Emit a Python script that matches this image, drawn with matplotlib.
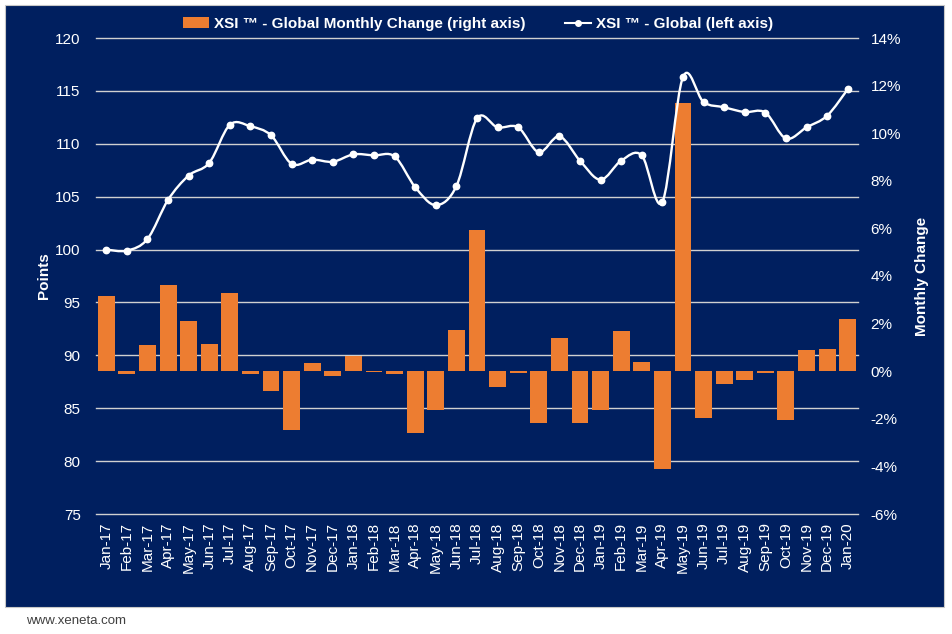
import numpy as np
import matplotlib.pyplot as plt
from matplotlib.patches import Rectangle, Patch
from matplotlib.lines import Line2D
from matplotlib.path import Path
from matplotlib.patches import PathPatch
from matplotlib.ticker import FuncFormatter

plt.rcParams['font.family'] = ['Liberation Sans', 'DejaVu Sans']

months = ['Jan-17', 'Feb-17', 'Mar-17', 'Apr-17', 'May-17', 'Jun-17', 'Jul-17', 'Aug-17',
          'Sep-17', 'Oct-17', 'Nov-17', 'Dec-17', 'Jan-18', 'Feb-18', 'Mar-18', 'Apr-18',
          'May-18', 'Jun-18', 'Jul-18', 'Aug-18', 'Sep-18', 'Oct-18', 'Nov-18', 'Dec-18',
          'Jan-19', 'Feb-19', 'Mar-19', 'Apr-19', 'May-19', 'Jun-19', 'Jul-19', 'Aug-19',
          'Sep-19', 'Oct-19', 'Nov-19', 'Dec-19', 'Jan-20']

# XSI Global index (left axis)
xsi = [100.0, 99.9, 101.0, 104.7, 107.0, 108.2, 111.8, 111.65, 110.8, 108.1, 108.5, 108.3,
       109.0, 108.9, 108.8, 105.9, 104.2, 106.0, 112.4, 111.55, 111.55, 109.2, 110.7, 108.4,
       106.6, 108.4, 108.9, 104.5, 116.3, 113.95, 113.45, 113.0, 112.95, 110.5, 111.55,
       112.65, 115.15]

# monthly change in % (right axis)
change = [3.15, -0.12, 1.11, 3.62, 2.12, 1.16, 3.27, -0.12, -0.82, -2.46, 0.36, -0.22,
          0.64, -0.05, -0.12, -2.60, -1.62, 1.73, 5.93, -0.65, -0.06, -2.16, 1.38, -2.16,
          -1.62, 1.69, 0.40, -4.11, 11.26, -1.98, -0.52, -0.38, -0.06, -2.06, 0.89, 0.93,
          2.21]

navy = '#001F5F'
orange = '#ED7D31'

W, H = 952, 634
fig = plt.figure(figsize=(W / 100, H / 100), dpi=100)
fig.patch.set_facecolor('white')
fig.patches.append(Rectangle((5 / W, 1 - 607 / H), 939 / W, 602 / H, transform=fig.transFigure,
                             facecolor=navy, edgecolor='#c8c8c8', lw=0.8, zorder=-5))

left, right, top, bottom = 96, 858, 38, 514
ax = fig.add_axes([left / W, 1 - bottom / H, (right - left) / W, (bottom - top) / H])
ax2 = ax.twinx()   # bars, right axis
ax3 = ax.twinx()   # line, same scale as left axis
ax.set_zorder(0)
ax2.set_zorder(1)
ax3.set_zorder(2)
for a in (ax, ax2, ax3):
    a.patch.set_visible(False)

x = np.arange(len(months))

# left axis: grid + ticks
ax.set_ylim(75, 120)
ax.set_yticks(np.arange(75, 121, 5))
ax.grid(axis='y', color='#d0d0d0', lw=1.0)
for gl in ax.get_ygridlines():
    gl.set_clip_on(False)
ax.set_xlim(-0.5, len(months) - 0.5)
ax.set_xticks(x)
ax.set_xticklabels(months, rotation=90)

# bars on the right axis
ax2.bar(x, change, width=0.82, color=orange)
ax2.set_ylim(-6, 14)
ax2.set_yticks(np.arange(-6, 15, 2))
ax2.yaxis.set_major_formatter(FuncFormatter(lambda v, p: f'{v:.0f}%'))

# smoothed line (bezier through the data points)
pts = np.column_stack([x, xsi])
verts = [pts[0]]
codes = [Path.MOVETO]
n = len(pts)
for i in range(n - 1):
    p0 = pts[max(i - 1, 0)]
    p1 = pts[i]
    p2 = pts[i + 1]
    p3 = pts[min(i + 2, n - 1)]
    c1 = p1 + (p2 - p0) / 6
    c2 = p2 - (p3 - p1) / 6
    verts += [c1, c2, p2]
    codes += [Path.CURVE4] * 3
ax3.add_patch(PathPatch(Path(verts, codes), facecolor='none', edgecolor='white', lw=1.7))
ax3.plot(x, xsi, linestyle='none', marker='o', ms=4.6, color='white')
ax3.set_ylim(ax.get_ylim())
ax3.set_xlim(ax.get_xlim())
ax3.set_yticks([])

for a in (ax, ax2, ax3):
    for s in a.spines.values():
        s.set_visible(False)
    a.tick_params(length=0, colors='white', labelsize=11)
ax.tick_params(axis='y', pad=11)
ax2.tick_params(axis='y', pad=9)
ax.tick_params(axis='x', pad=6)

ax.set_ylabel('Points', color='white', fontweight='bold', fontsize=11, labelpad=3)
ax2.set_ylabel('Monthly Change', color='white', fontweight='bold', fontsize=11, labelpad=10)

handles = [Patch(facecolor=orange, edgecolor='none'),
           Line2D([0], [0], color='white', lw=1.5, marker='o', ms=4)]
labels = ['XSI \u2122 - Global Monthly Change (right axis)', 'XSI \u2122 - Global (left axis)']
leg = fig.legend(handles, labels, loc='center', bbox_to_anchor=(478 / W, 1 - 24 / H), ncol=2,
                 frameon=False, fontsize=11, handlelength=1.7, handletextpad=0.3,
                 columnspacing=2.6)
for t in leg.get_texts():
    t.set_color('white')
    t.set_fontweight('bold')

fig.text(26 / W, 1 - 621 / H, 'www.xeneta.com', fontsize=9.5, color='#404040', va='center')

fig.savefig('out.png', dpi=100, facecolor='white')
